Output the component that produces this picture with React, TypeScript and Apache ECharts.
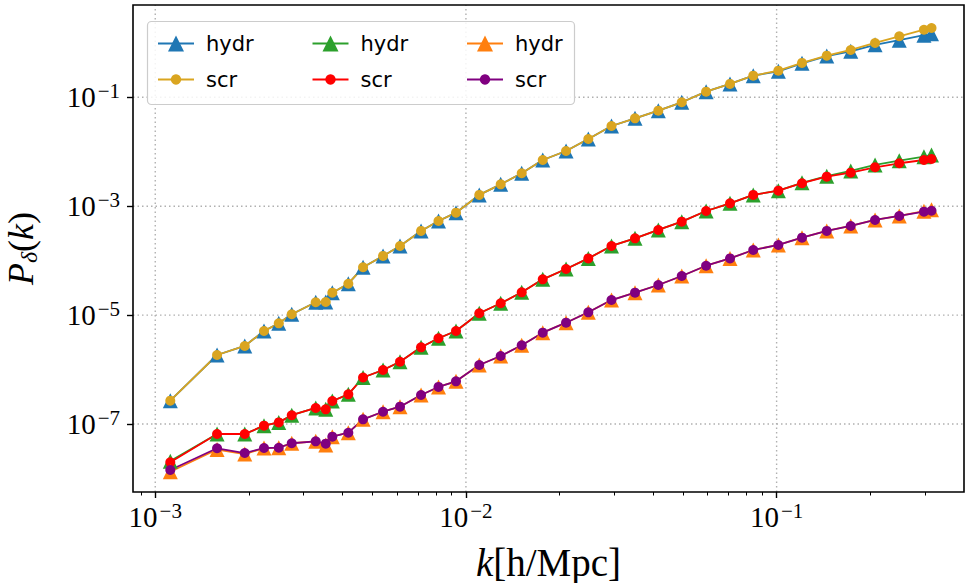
import React, { useEffect, useRef } from 'react';
import * as echarts from 'echarts';

// k [h/Mpc]
const kValues = [
  1.118e-3, 1.581e-3, 1.941e-3, 2.239e-3, 2.498e-3, 2.75e-3, 3.285e-3, 3.538e-3, 3.715e-3, 4.183e-3,
  4.665e-3, 5.41e-3, 6.135e-3, 7.17e-3, 8.16e-3, 9.29e-3, 1.104e-2, 1.294e-2, 1.512e-2, 1.767e-2,
  2.1e-2, 2.477e-2, 2.941e-2, 3.501e-2, 4.161e-2, 4.95e-2, 5.93e-2, 7.08e-2, 8.41e-2, 0.1013,
  0.1207, 0.145, 0.1732, 0.2074, 0.2482, 0.298, 0.3152,
];

// upper pair
const hydrBlue = [
  2.68e-7, 1.85e-6, 2.71e-6, 5.1e-6, 7.06e-6, 1.035e-5, 1.72e-5, 1.74e-5, 2.58e-5, 3.77e-5,
  7.55e-5, 1.22e-4, 1.86e-4, 3.51e-4, 5.35e-4, 7.6e-4, 1.61e-3, 2.52e-3, 4.02e-3, 7.05e-3,
  1.03e-2, 1.71e-2, 2.97e-2, 4.11e-2, 5.68e-2, 8.09e-2, 0.127, 0.176, 0.249, 0.3,
  0.42, 0.57, 0.7, 0.92, 1.12, 1.38, 1.47,
];
const scrGold = [
  2.68e-7, 1.85e-6, 2.71e-6, 5.1e-6, 7.06e-6, 1.035e-5, 1.72e-5, 1.74e-5, 2.58e-5, 3.77e-5,
  7.55e-5, 1.22e-4, 1.86e-4, 3.51e-4, 5.35e-4, 7.6e-4, 1.61e-3, 2.52e-3, 4.02e-3, 7.05e-3,
  1.03e-2, 1.71e-2, 2.97e-2, 4.11e-2, 5.68e-2, 8.09e-2, 0.127, 0.176, 0.249, 0.308,
  0.427, 0.581, 0.739, 0.994, 1.32, 1.74, 1.87,
];

// middle pair
const hydrGreen = [
  2.08e-8, 6.55e-8, 6.55e-8, 9.31e-8, 1.07e-7, 1.45e-7, 1.97e-7, 1.86e-7, 2.64e-7, 3.51e-7,
  7.14e-7, 9.82e-7, 1.39e-6, 2.56e-6, 3.75e-6, 5.1e-6, 1.08e-5, 1.65e-5, 2.62e-5, 4.54e-5,
  7.03e-5, 1.1e-4, 1.86e-4, 2.57e-4, 3.66e-4, 5.19e-4, 8.16e-4, 1.13e-3, 1.61e-3, 1.93e-3,
  2.68e-3, 3.55e-3, 4.43e-3, 5.71e-3, 6.85e-3, 8.11e-3, 8.71e-3,
];
const scrRed = [
  1.98e-8, 6.55e-8, 6.55e-8, 9.31e-8, 1.07e-7, 1.45e-7, 1.97e-7, 1.86e-7, 2.64e-7, 3.51e-7,
  7.14e-7, 9.82e-7, 1.39e-6, 2.56e-6, 3.75e-6, 5.1e-6, 1.08e-5, 1.65e-5, 2.62e-5, 4.54e-5,
  7.03e-5, 1.1e-4, 1.86e-4, 2.57e-4, 3.66e-4, 5.19e-4, 8.16e-4, 1.13e-3, 1.61e-3, 1.93e-3,
  2.64e-3, 3.48e-3, 4.12e-3, 5.18e-3, 6.14e-3, 7.05e-3, 7.36e-3,
];

// lower pair
const hydrOrange = [
  1.33e-8, 3.4e-8, 2.8e-8, 3.62e-8, 3.67e-8, 4.43e-8, 4.81e-8, 4.1e-8, 5.85e-8, 6.92e-8,
  1.22e-7, 1.68e-7, 2.08e-7, 3.41e-7, 4.79e-7, 6.08e-7, 1.21e-6, 1.77e-6, 2.79e-6, 4.75e-6,
  7.25e-6, 1.125e-5, 1.89e-5, 2.58e-5, 3.57e-5, 5.22e-5, 8.07e-5, 1.1e-4, 1.57e-4, 1.94e-4,
  2.64e-4, 3.51e-4, 4.33e-4, 5.58e-4, 6.61e-4, 8.1e-4, 8.6e-4,
];
const scrPurple = [
  1.43e-8, 3.58e-8, 2.93e-8, 3.62e-8, 3.67e-8, 4.43e-8, 4.81e-8, 4.35e-8, 5.85e-8, 6.92e-8,
  1.22e-7, 1.68e-7, 2.08e-7, 3.41e-7, 4.79e-7, 6.08e-7, 1.21e-6, 1.77e-6, 2.79e-6, 4.75e-6,
  7.25e-6, 1.125e-5, 1.89e-5, 2.58e-5, 3.57e-5, 5.22e-5, 8.07e-5, 1.1e-4, 1.57e-4, 1.94e-4,
  2.64e-4, 3.51e-4, 4.33e-4, 5.58e-4, 6.61e-4, 7.93e-4, 8.26e-4,
];

const xMajorTicks = [1e-3, 1e-2, 1e-1];
const xMinorTicks = [
  9e-4, 2e-3, 3e-3, 4e-3, 5e-3, 6e-3, 7e-3, 8e-3, 9e-3,
  2e-2, 3e-2, 4e-2, 5e-2, 6e-2, 7e-2, 8e-2, 9e-2, 2e-1, 3e-1,
];
const yMajorTicks = [1e-7, 1e-5, 1e-3, 1e-1];

const X_RANGE = [8.48e-4, 0.401];
const Y_RANGE = [5.64e-9, 4.95];

const SERIF = "'Liberation Serif', 'DejaVu Serif', serif";
const SANS = "'DejaVu Sans', sans-serif";
const lg = (v: number) => Math.log10(v);

const powLabel = (v: number) => {
  const e = Math.round(v);
  return `{b|10}{s|${e < 0 ? '\u2212' : ''}${Math.abs(e)}}`;
};
const labelRich = {
  b: { fontFamily: SERIF, fontSize: 29, lineHeight: 34, color: '#000' },
  s: { fontFamily: SERIF, fontSize: 21, lineHeight: 21, verticalAlign: 'top', padding: [0, 0, 0, 2], color: '#000' },
};

const seriesDefs = [
  { id: 'hydr_1', label: 'hydr', vals: hydrBlue, color: '#1f77b4', symbol: 'triangle', size: 15, col: 0, row: 0 },
  { id: 'scr_1', label: 'scr', vals: scrGold, color: '#daa520', symbol: 'circle', size: 10, col: 0, row: 1 },
  { id: 'hydr_2', label: 'hydr', vals: hydrGreen, color: '#2ca02c', symbol: 'triangle', size: 15, col: 1, row: 0 },
  { id: 'scr_2', label: 'scr', vals: scrRed, color: '#ff0000', symbol: 'circle', size: 10, col: 1, row: 1 },
  { id: 'hydr_3', label: 'hydr', vals: hydrOrange, color: '#ff7f0e', symbol: 'triangle', size: 15, col: 2, row: 0 },
  { id: 'scr_3', label: 'scr', vals: scrPurple, color: '#800080', symbol: 'circle', size: 10, col: 2, row: 1 },
];

export default function App() {
  const ref = useRef<HTMLDivElement>(null);
  useEffect(() => {
    if (!ref.current) return;
    const chart = echarts.init(ref.current, null, { renderer: 'svg' });
    const xMin = lg(X_RANGE[0]);
    const xMax = lg(X_RANGE[1]);
    const yMin = lg(Y_RANGE[0]);
    const yMax = lg(Y_RANGE[1]);

    const gridStyle = { color: '#b0b0b0', type: [1.5, 3], width: 1.4 };
    const gridSeries: any[] = [
      ...xMajorTicks.map((v) => ({
        type: 'line',
        name: '__gx' + v,
        data: [[lg(v), yMin], [lg(v), yMax]],
        symbol: 'none',
        silent: true,
        lineStyle: gridStyle,
        emphasis: { disabled: true },
        z: 1,
      })),
      ...yMajorTicks.map((v) => ({
        type: 'line',
        name: '__gy' + v,
        data: [[xMin, lg(v)], [xMax, lg(v)]],
        symbol: 'none',
        silent: true,
        lineStyle: gridStyle,
        emphasis: { disabled: true },
        z: 1,
      })),
    ];

    const dataSeries = seriesDefs.map((d) => ({
      type: 'line',
      name: d.id,
      data: kValues.map((k, i) => [lg(k), lg(d.vals[i])]),
      symbol: d.symbol,
      symbolSize: d.size,
      showSymbol: true,
      showAllSymbol: true,
      lineStyle: { color: d.color, width: 1.8 },
      itemStyle: { color: d.color },
      emphasis: { disabled: true },
      silent: true,
    }));

    const colX = [157, 311.5, 466];
    const rowY = [43.5, 79.5];
    const legends = seriesDefs.map((d) => ({
      show: true,
      orient: 'horizontal',
      left: colX[d.col],
      top: rowY[d.row] - 12,
      padding: 0,
      itemWidth: 36,
      itemHeight: d.symbol === 'triangle' ? 20 : 13,
      selectedMode: false,
      data: [{ name: d.id }],
      formatter: () => d.label,
      textStyle: { fontFamily: SANS, fontSize: 21, color: '#000', lineHeight: 24, padding: [0, 0, 0, 7] },
      z: 6,
    }));

    chart.setOption({
      animation: false,
      backgroundColor: '#ffffff',
      grid: { left: 133, right: 2, top: 5, bottom: 91, containLabel: false, outerBoundsMode: 'none' },
      xAxis: [
        {
          type: 'value',
          min: xMin,
          max: xMax,
          position: 'bottom',
          axisLine: { show: false, onZero: false },
          splitLine: { show: false },
          axisTick: {
            show: true,
            length: 6,
            lineStyle: { color: '#000', width: 1.4 },
            customValues: xMajorTicks.map(lg),
          },
          axisLabel: {
            show: true,
            margin: 8,
            customValues: xMajorTicks.map(lg),
            formatter: powLabel,
            rich: labelRich,
          },
          name: '{i|k}{r|[h/Mpc]}',
          nameLocation: 'middle',
          nameGap: 51,
          nameTextStyle: {
            fontFamily: SERIF,
            fontSize: 39,
            color: '#000',
            rich: {
              i: { fontFamily: SERIF, fontStyle: 'italic', fontSize: 39, lineHeight: 38, color: '#000' },
              r: { fontFamily: SERIF, fontSize: 39, lineHeight: 38, color: '#000' },
            },
          },
        },
        {
          type: 'value',
          min: xMin,
          max: xMax,
          position: 'bottom',
          axisLine: { show: false, onZero: false },
          splitLine: { show: false },
          axisLabel: { show: false },
          axisTick: {
            show: true,
            length: 3.5,
            lineStyle: { color: '#000', width: 1 },
            customValues: xMinorTicks.map(lg),
          },
        },
      ],
      yAxis: [
        {
          type: 'value',
          min: yMin,
          max: yMax,
          axisLine: { show: false, onZero: false },
          splitLine: { show: false },
          axisTick: {
            show: true,
            length: 6,
            lineStyle: { color: '#000', width: 1.4 },
            customValues: yMajorTicks.map(lg),
          },
          axisLabel: {
            show: true,
            margin: 13,
            customValues: yMajorTicks.map(lg),
            formatter: powLabel,
            rich: labelRich,
          },
          name: '{i|P}{sub|\u03b4}{r|(}{i|k}{r|)}',
          nameLocation: 'middle',
          nameGap: 92,
          nameRotate: 90,
          nameTextStyle: {
            fontFamily: SERIF,
            fontSize: 36,
            color: '#000',
            rich: {
              i: { fontFamily: SERIF, fontStyle: 'italic', fontSize: 36, lineHeight: 40, color: '#000' },
              r: { fontFamily: SERIF, fontSize: 36, lineHeight: 40, color: '#000' },
              sub: { fontFamily: SERIF, fontStyle: 'italic', fontSize: 24, lineHeight: 20, verticalAlign: 'bottom', color: '#000' },
            },
          },
        },
      ],
      legend: legends,
      graphic: [
        {
          type: 'rect',
          z: 5,
          silent: true,
          shape: { x: 147.5, y: 21.5, width: 427, height: 83, r: 4 },
          style: { fill: 'rgba(255,255,255,0.85)', stroke: '#cccccc', lineWidth: 1.2 },
        },
        {
          type: 'rect',
          z: 20,
          silent: true,
          shape: { x: 133, y: 5, width: 831, height: 487 },
          style: { fill: 'none', stroke: '#000', lineWidth: 1.6 },
        },
      ],
      series: [...gridSeries, ...dataSeries],
    });
    return () => chart.dispose();
  }, []);
  return <div ref={ref} style={{ position: 'fixed', left: 0, top: 0, width: 966, height: 583 }} />;
}
